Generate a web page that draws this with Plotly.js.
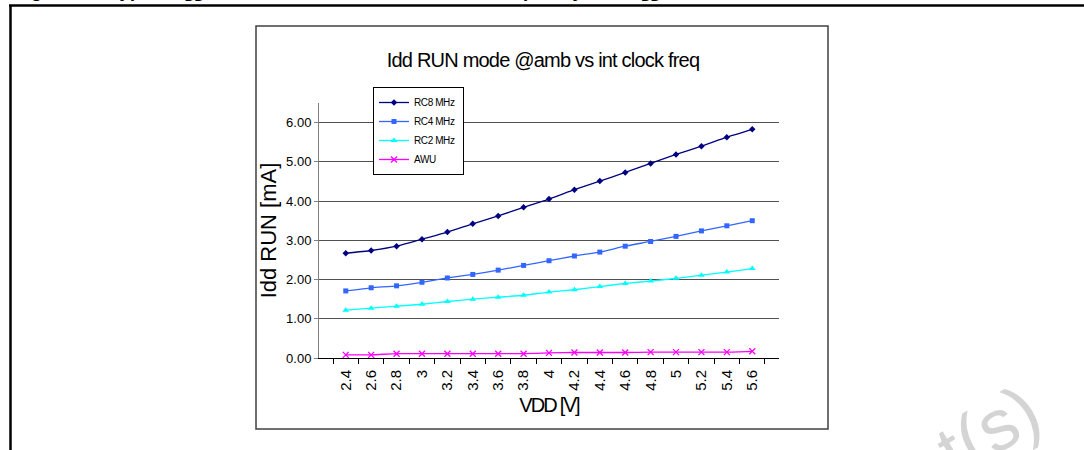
<!DOCTYPE html>
<html>
<head>
<meta charset="utf-8">
<script src="https://cdn.plot.ly/plotly-3.0.1.min.js"></script>
<style>
html,body{margin:0;padding:0;background:#fff;}
#chart{width:1084px;height:450px;}
#chart .gtitle{letter-spacing:-0.8px;}
#chart .xtitle{letter-spacing:-1.8px;}
#chart .legendtext{letter-spacing:-0.4px;}
</style>
</head>
<body>
<div id="chart"></div>
<script>
// ---- data ----
const vdd = ['2.4','2.6','2.8','3','3.2','3.4','3.6','3.8','4','4.2','4.4','4.6','4.8','5','5.2','5.4','5.6'];
const rc8 = [2.67,2.74,2.85,3.03,3.21,3.42,3.62,3.84,4.05,4.29,4.51,4.73,4.96,5.19,5.40,5.63,5.83];
const rc4 = [1.71,1.79,1.84,1.93,2.04,2.13,2.24,2.36,2.48,2.60,2.70,2.85,2.97,3.10,3.24,3.37,3.50];
const rc2 = [1.22,1.27,1.32,1.37,1.44,1.50,1.55,1.60,1.68,1.74,1.82,1.90,1.96,2.03,2.11,2.19,2.28];
const awu = [0.08,0.08,0.11,0.11,0.11,0.11,0.11,0.11,0.13,0.14,0.14,0.14,0.15,0.15,0.15,0.15,0.17];
const seriesNames = ['RC8 MHz','RC4 MHz','RC2 MHz','AWU'];
const chartTitle = 'Idd RUN mode @amb vs int clock freq';
const xTitle = 'VDD [V]';
const yTitle = 'Idd RUN [mA]';
const figCaption = 'Figure 94. Typical I<sub>DD</sub> in RUN mode vs. internal clock frequency and V<sub>DD</sub>';
const watermark = 'Obsolete Product(s)';

const FONT = '"Liberation Sans",Arial,sans-serif';

function tr(y, name, color, symbol, msize){
  return {
    x: vdd, y: y, name: name, type: 'scatter', mode: 'lines+markers',
    line: {color: color, width: 1.3, shape: 'spline', smoothing: 0.5},
    marker: {color: color, symbol: symbol, size: msize, line: {color: color, width: symbol.indexOf('x')===0 ? 1.3 : 0}},
    cliponaxis: false
  };
}
const data = [
  tr(rc8, seriesNames[0], '#000080', 'diamond', 5),
  tr(rc4, seriesNames[1], '#3366FF', 'square', 5),
  tr(rc2, seriesNames[2], '#00FFFF', 'triangle-up', 6),
  tr(awu, seriesNames[3], '#FF00FF', 'x-thin-open', 6)
];

// plot area: x 319..779, y 103..358
const L=319, R=779, T=103, B=358, W=R-L, H=B-T;
const px = x => (x-L)/W;
const py = y => (B-y)/H;

const layout = {
  width: 1084, height: 450,
  margin: {l: L, r: 1084-R, t: T, b: 450-B, pad: 0},
  paper_bgcolor: '#fff', plot_bgcolor: '#fff',
  font: {family: FONT, color: '#000'},
  showlegend: true,
  legend: {
    x: px(373), y: py(87), xanchor: 'left', yanchor: 'top',
    bgcolor: '#fff', bordercolor: '#000', borderwidth: 1,
    font: {size: 10, family: FONT, color: '#000'},
    itemwidth: 30, tracegroupgap: 0
  },
  title: {
    text: chartTitle, font: {size: 20, family: FONT, color: '#000'},
    x: px(543), xanchor: 'center', xref: 'paper',
    y: 1-(60/450), yanchor: 'middle', yref: 'container'
  },
  xaxis: {
    type: 'category', tickson: 'boundaries', ticks: 'outside', ticklen: 5, tickcolor: '#000',
    showline: true, linecolor: '#000', linewidth: 1, showgrid: false, zeroline: false,
    tickangle: -90, tickfont: {size: 15, family: FONT, color: '#000'}, ticklabelstandoff: 5,
    title: {text: xTitle, font: {size: 20, family: FONT, color: '#000'}, standoff: 8},
    automargin: false
  },
  yaxis: {
    range: [0, 6.5], dtick: 1, tick0: 0, tickformat: '.2f',
    ticks: 'outside', ticklen: 4, tickcolor: '#808080',
    showline: true, linecolor: '#808080', linewidth: 1,
    showgrid: true, gridcolor: '#505050', gridwidth: 1, zeroline: false,
    tickfont: {size: 13, family: FONT, color: '#000'},
    title: {text: yTitle, font: {size: 22, family: FONT, color: '#000'}, standoff: 3},
    automargin: false
  },
  shapes: [
    // chart frame
    {type: 'rect', xref: 'paper', yref: 'paper', x0: px(256), x1: px(828), y0: py(429), y1: py(26),
     line: {color: '#404040', width: 1.5}, fillcolor: 'rgba(0,0,0,0)', layer: 'below'},
    // outer figure frame (top and left edges)
    {type: 'line', xref: 'paper', yref: 'paper', x0: px(9), x1: px(1090), y0: py(5.5), y1: py(5.5),
     line: {color: '#000', width: 2.5}},
    {type: 'line', xref: 'paper', yref: 'paper', x0: px(10.5), x1: px(10.5), y0: py(5), y1: py(460),
     line: {color: '#000', width: 2.5}}
  ],
  annotations: [
    {text: figCaption, xref: 'paper', yref: 'paper', x: px(13), y: py(-8.5), xanchor: 'left', yanchor: 'middle',
     showarrow: false, font: {size: 19, family: FONT, color: '#000', weight: 'bold', style: 'italic'}},
    {text: watermark, xref: 'paper', yref: 'paper', x: px(756), y: py(564), xanchor: 'center', yanchor: 'middle',
     showarrow: false, textangle: -30, font: {size: 72, family: FONT, color: '#d4d4d4'}}
  ]
};

Plotly.newPlot('chart', data, layout, {staticPlot: true, displayModeBar: false});
</script>
</body>
</html>
